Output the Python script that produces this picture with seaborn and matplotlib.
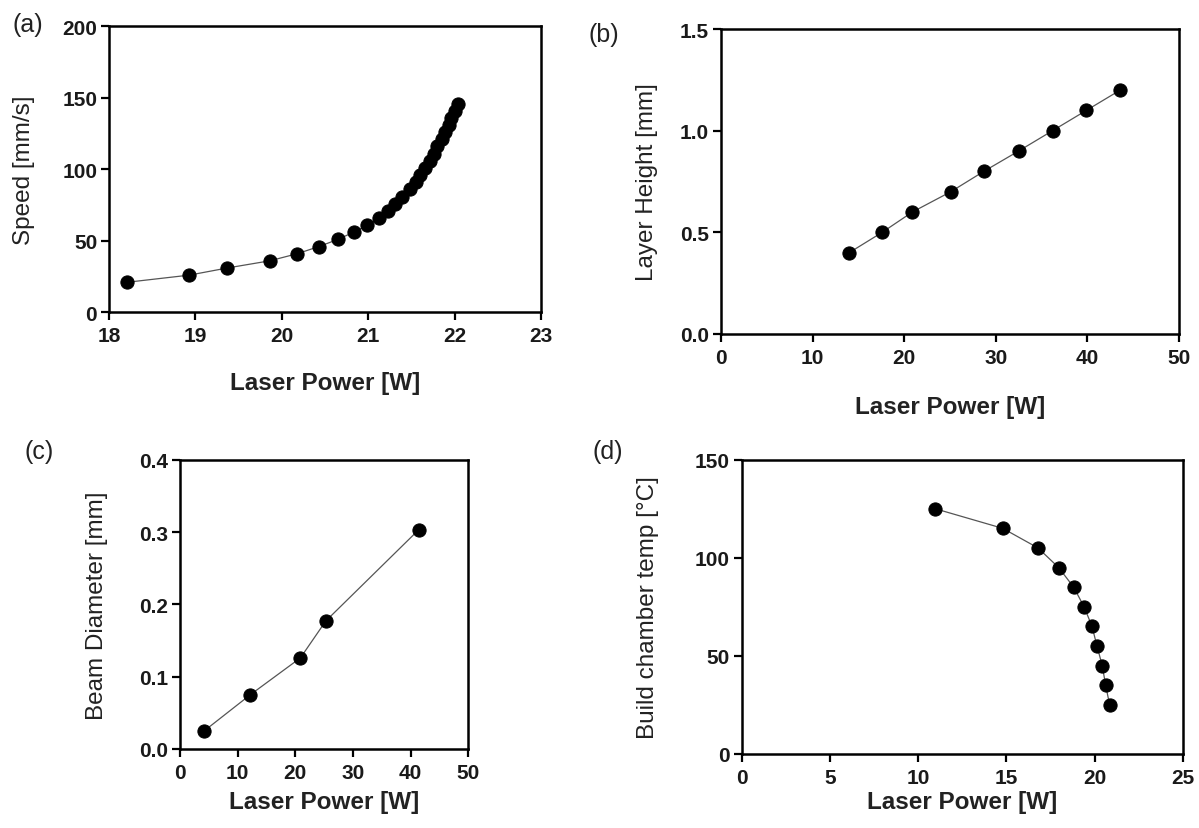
import numpy as np
import pandas as pd
import seaborn as sns
import matplotlib.pyplot as plt

# (a) speed vs laser power
a_power = [18.21, 18.93, 19.37, 19.86, 20.18, 20.43, 20.65, 20.83, 20.99, 21.12,
           21.23, 21.31, 21.39, 21.48, 21.55, 21.60, 21.66, 21.71, 21.76, 21.80,
           21.85, 21.89, 21.93, 21.96, 22.00, 22.04]
a_speed = [21, 26, 31, 36, 41, 46, 51, 56, 61, 66,
           71, 76, 81, 86, 91, 96, 101, 106, 111, 116,
           121, 126, 131, 136, 141, 146]

# (b) layer height vs laser power
b_power = [14.0, 17.6, 20.9, 25.1, 28.7, 32.5, 36.2, 39.9, 43.6]
b_height = [0.4, 0.5, 0.6, 0.7, 0.8, 0.9, 1.0, 1.1, 1.2]

# (c) beam diameter vs laser power
c_power = [4.2, 12.2, 20.9, 25.3, 41.4]
c_diam = [0.025, 0.075, 0.126, 0.177, 0.303]

# (d) build chamber temp vs laser power
d_power = [10.96, 14.79, 16.79, 17.96, 18.81, 19.40, 19.85, 20.13, 20.43, 20.62, 20.85]
d_temp = [125, 115, 105, 95, 85, 75, 65, 55, 45, 35, 25]

sns.set_theme(style="ticks")
plt.rcParams['font.family'] = ['Liberation Sans', 'DejaVu Sans']

fig = plt.figure(figsize=(11.99, 8.29), dpi=100)

panels = [
    # x, y, rect, xlim, ylim, xticks, yticks, ylabel, ytick fmt, ylabel x, xlabel y, tag, tag pos
    (a_power, a_speed, [0.0909, 0.6221, 0.3603, 0.3448], (18, 23), (0, 200),
     [18, 19, 20, 21, 22, 23], [0, 50, 100, 150, 200], "Speed [mm/s]", "{:.0f}",
     -0.171, -0.205, "(a)", (12, 25)),
    (b_power, b_height, [0.6013, 0.5959, 0.3820, 0.3679], (0, 50), (0, 1.5),
     [0, 10, 20, 30, 40, 50], [0.0, 0.5, 1.0, 1.5], "Layer Height [mm]", "{:.1f}",
     -0.138, -0.200, "(b)", (588, 35)),
    (c_power, c_diam, [0.1501, 0.0953, 0.2404, 0.3490], (0, 50), (0, 0.4),
     [0, 10, 20, 30, 40, 50], [0.0, 0.1, 0.2, 0.3, 0.4], "Beam Diameter [mm]", "{:.1f}",
     -0.250, -0.140, "(c)", (25, 452)),
    (d_power, d_temp, [0.6186, 0.0893, 0.3680, 0.3550], (0, 25), (0, 150),
     [0, 5, 10, 15, 20, 25], [0, 50, 100, 150], "Build chamber temp [°C]", "{:.0f}",
     -0.1875, -0.122, "(d)", (592, 452)),
]

for (xs, ys, rect, xlim, ylim, xt, yt, ylab, fmt, ylx, xly, tag, tagpos) in panels:
    ax = fig.add_axes(rect)
    df = pd.DataFrame({"x": xs, "y": ys})
    sns.lineplot(data=df, x="x", y="y", ax=ax, sort=False, color="#555555",
                 linewidth=0.9, marker="o", markersize=9.5,
                 markerfacecolor="black", markeredgecolor="black")
    ax.set_xlim(*xlim)
    ax.set_ylim(*ylim)
    ax.set_xticks(xt)
    ax.set_yticks(yt)
    ax.set_xticklabels([str(v) for v in xt])
    ax.set_yticklabels([fmt.format(v) for v in yt])
    for lab in ax.get_xticklabels() + ax.get_yticklabels():
        lab.set_fontweight("bold")
        lab.set_fontsize(15)
        lab.set_color("#1a1a1a")
    ax.tick_params(axis="both", direction="out", length=6, width=1.6, color="black")
    ax.tick_params(axis="x", pad=4)
    ax.tick_params(axis="y", pad=2.5)
    for sp in ax.spines.values():
        sp.set_visible(True)
        sp.set_linewidth(1.8)
        sp.set_color("black")
    ax.set_xlabel("Laser Power [W]", fontsize=17.5, fontweight="bold", color="#222222")
    ax.set_ylabel(ylab, fontsize=17.5, color="#222222")
    ax.yaxis.set_label_coords(ylx, 0.5)
    ax.xaxis.set_label_coords(0.5, xly)
    fig.text(tagpos[0] / 1199, 1 - tagpos[1] / 829, tag, fontsize=18,
             ha="left", va="center", color="#222222")

fig.savefig("out.png", dpi=100)
